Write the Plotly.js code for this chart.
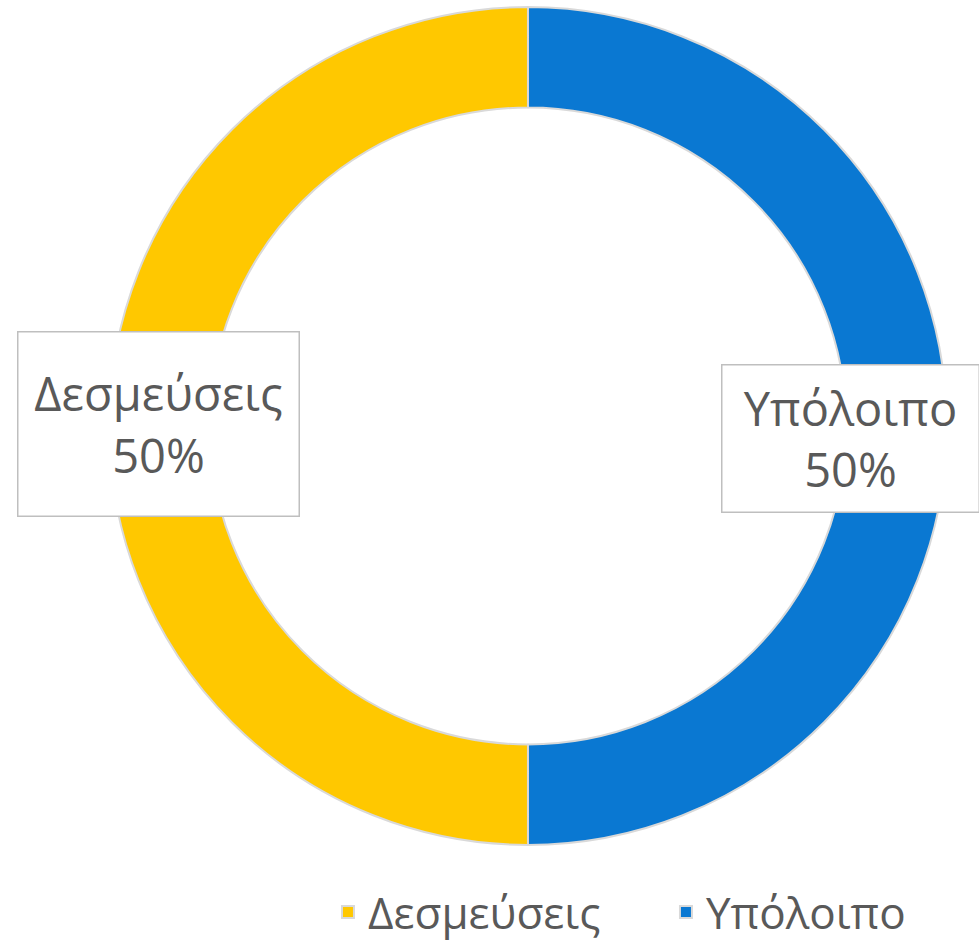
<!DOCTYPE html>
<html><head><meta charset="utf-8">
<script src="https://cdn.plot.ly/plotly-3.0.1.min.js"></script>
<style>html,body{margin:0;padding:0;background:#fff;overflow:hidden;}#chart{width:979px;height:948px;}</style>
</head><body><div id="chart"></div>
<script>
const labels = ['Δεσμεύσεις', 'Υπόλοιπο'];
const values = [50, 50];
const colors = ['#FFC800', '#0A78D2'];

const total = values.reduce((a, b) => a + b, 0);
const pct = values.map(v => Math.round(v / total * 100) + '%');

const FONT = 'Open Sans, Noto Sans, DejaVu Sans, sans-serif';
const TXT = '#595959';

const trace = {
  type: 'pie',
  labels: labels,
  values: values,
  hole: 0.76,
  sort: false,
  direction: 'clockwise',
  rotation: 180,
  textinfo: 'none',
  hoverinfo: 'label+percent',
  marker: { colors: colors, line: { color: '#D9D9D9', width: 2 } },
  domain: { x: [0.1113, 0.9673], y: [0.1087, 0.9926] }
};

const boxPos = [
  { x: 158 / 979, y: 1 - 424 / 948, w: 278, h: 181 },
  { x: 850 / 979, y: 1 - 439 / 948, w: 254, h: 144 }
];

const annotations = labels.map((l, i) => ({
  text: l + '<br>' + pct[i],
  xref: 'paper', yref: 'paper',
  x: boxPos[i].x, y: boxPos[i].y,
  xanchor: 'center', yanchor: 'middle',
  showarrow: false,
  bgcolor: '#FFFFFF',
  bordercolor: '#BFBFBF',
  borderwidth: 1.5,
  width: boxPos[i].w, height: boxPos[i].h,
  font: { family: FONT, size: 47, color: TXT }
}));

const layout = {
  width: 979, height: 948,
  margin: { l: 0, r: 0, t: 0, b: 0, autoexpand: false },
  paper_bgcolor: '#FFFFFF',
  showlegend: true,
  legend: {
    orientation: 'h',
    x: 0.335, xanchor: 'left',
    y: 0, yanchor: 'bottom',
    font: { family: FONT, size: 44, color: TXT },
    itemwidth: 30,
    entrywidth: 293,
    entrywidthmode: 'pixels'
  },
  annotations: annotations
};

Plotly.newPlot('chart', [trace], layout, { displayModeBar: false, staticPlot: true });
</script>
</body></html>
